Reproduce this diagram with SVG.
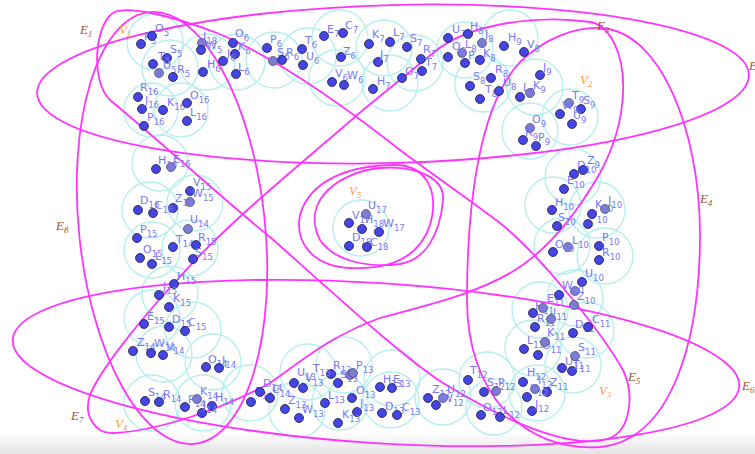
<svg xmlns="http://www.w3.org/2000/svg" width="755" height="454" viewBox="0 0 755 454">
<defs>
<linearGradient id="shade" x1="0" y1="0" x2="0" y2="1"><stop offset="0" stop-color="#ffffff"/><stop offset="1" stop-color="#e4e4e4"/></linearGradient>
</defs>
<style>
.c{fill:none;stroke:#b8eeee;stroke-width:1.4}
.d{fill:#4545e6;stroke:#1e1e3c;stroke-width:0.8}
.g{fill:#7c7cd6;stroke:#44446a;stroke-width:0.7}
.l{font-family:"DejaVu Sans","Liberation Sans",sans-serif;font-size:11px;fill:#7878f4}
.s{font-size:8.5px}
.e{fill:none;stroke:#ff33ff;stroke-width:1.8}
.el{font-family:"Liberation Serif",serif;font-style:italic;font-size:13px;fill:#a0522d}
.vl{font-family:"Liberation Serif",serif;font-style:italic;font-size:13px;fill:#ff9a2e}
</style>
<rect width="755" height="454" fill="#ffffff"/>
<rect x="0" y="432" width="755" height="22" fill="url(#shade)"/>
<g id="clusters">
<circle class="c" cx="155" cy="42" r="28"/><circle class="c" cx="170" cy="68" r="28"/><circle class="c" cx="207" cy="62" r="28"/><circle class="c" cx="237" cy="62" r="28"/><circle class="c" cx="274" cy="60" r="28"/><circle class="c" cx="308" cy="56" r="28"/><circle class="c" cx="340" cy="38" r="28"/><circle class="c" cx="337" cy="78" r="28"/><circle class="c" cx="384" cy="48" r="28"/><circle class="c" cx="415" cy="63" r="28"/><circle class="c" cx="390" cy="83" r="28"/><circle class="c" cx="465" cy="50" r="28"/><circle class="c" cx="483" cy="84" r="28"/><circle class="c" cx="510" cy="38" r="28"/><circle class="c" cx="535" cy="87" r="28"/><circle class="c" cx="570" cy="117" r="28"/><circle class="c" cx="530" cy="131" r="28"/>
<circle class="c" cx="573" cy="177" r="28"/><circle class="c" cx="553" cy="205" r="28"/><circle class="c" cx="597" cy="210" r="28"/><circle class="c" cx="562" cy="246" r="28"/><circle class="c" cx="605" cy="256" r="28"/><circle class="c" cx="575" cy="298" r="28"/><circle class="c" cx="540" cy="310" r="28"/><circle class="c" cx="586" cy="330" r="28"/><circle class="c" cx="533" cy="348" r="28"/><circle class="c" cx="573" cy="365" r="28"/><circle class="c" cx="487" cy="380" r="28"/><circle class="c" cx="537" cy="393" r="28"/><circle class="c" cx="494" cy="407" r="28"/>
<circle class="c" cx="443" cy="397" r="28"/><circle class="c" cx="392" cy="378" r="28"/><circle class="c" cx="391" cy="400" r="28"/><circle class="c" cx="344" cy="365" r="28"/><circle class="c" cx="340" cy="402" r="28"/><circle class="c" cx="308" cy="372" r="28"/><circle class="c" cx="297" cy="410" r="28"/><circle class="c" cx="250" cy="393" r="28"/><circle class="c" cx="213" cy="362" r="28"/><circle class="c" cx="203" cy="403" r="28"/><circle class="c" cx="152" cy="403" r="28"/><circle class="c" cx="164" cy="354" r="28"/><circle class="c" cx="193" cy="330" r="28"/><circle class="c" cx="152" cy="318" r="28"/><circle class="c" cx="170" cy="294" r="28"/>
<circle class="c" cx="190" cy="248" r="28"/><circle class="c" cx="152" cy="250" r="28"/><circle class="c" cx="150" cy="210" r="28"/><circle class="c" cx="195" cy="203" r="28"/><circle class="c" cx="160" cy="163" r="28"/><circle class="c" cx="151" cy="110" r="27"/><circle class="c" cx="181" cy="110" r="27"/><circle class="c" cx="361" cy="228" r="28"/>
</g>
<g id="connectors">
<ellipse id="E2" class="e" cx="393" cy="84" rx="356" ry="79" transform="rotate(-1.5 393 84)"/>
<ellipse id="E6" class="e" cx="376" cy="363" rx="364" ry="80" transform="rotate(3.7 376 363)"/>
<path id="E4" class="e" d="M600,28 C660,30 700,130 700,235 C700,340 672,440 600,447 C522,452 467,392 467,300 C467,200 480,105 520,62 C545,38 575,27 600,28 Z"/>
<ellipse id="E8" class="e" cx="172" cy="228" rx="93" ry="217" transform="rotate(-6 172 228)"/>
<path id="E3" class="e" d="M623,93 C625,55 610,25 590,22 C540,15 470,22 433,53 L363,110 C300,165 230,220 177,280 C140,320 100,370 90,395 C83,415 95,435 115,433 C160,430 220,410 270,383 C300,362 330,336 380,318 C430,304 470,296 512,272 C552,248 580,208 600,173 C615,145 622,120 623,93 Z"/>
<path id="E1" class="e" d="M113,13 C125,5 170,15 217,33 C270,55 330,95 400,150 C440,180 470,200 500,223 C540,255 600,330 623,370 C635,395 630,430 610,438 C580,450 520,430 443,383 C400,355 330,290 270,237 C230,205 170,150 110,100 C90,80 95,25 113,13 Z"/>
<path id="E5" class="e" d="M320,240 C300,200 340,172 380,168 C420,165 445,180 443,200 C440,235 425,260 400,264 C370,268 335,262 320,240 Z"/>
<path id="E7" class="e" d="M300,215 C310,180 350,165 395,165 C425,165 440,190 430,225 C420,255 395,270 350,268 C310,266 295,240 300,215 Z"/>
</g>
<g id="labels">
<text class="el" x="80" y="34">E<tspan class="s" dy="3">1</tspan></text>
<text class="el" x="749" y="70">E<tspan class="s" dy="3">2</tspan></text>
<text class="el" x="597" y="30">E<tspan class="s" dy="3">3</tspan></text>
<text class="el" x="700" y="203">E<tspan class="s" dy="3">4</tspan></text>
<text class="el" x="628" y="381">E<tspan class="s" dy="3">5</tspan></text>
<text class="el" x="742" y="390">E<tspan class="s" dy="3">6</tspan></text>
<text class="el" x="71" y="420">E<tspan class="s" dy="3">7</tspan></text>
<text class="el" x="56" y="230">E<tspan class="s" dy="3">8</tspan></text>
<text class="vl" x="119" y="34">V<tspan class="s" dy="3">1</tspan></text>
<text class="vl" x="580" y="84">V<tspan class="s" dy="3">2</tspan></text>
<text class="vl" x="599" y="395">V<tspan class="s" dy="3">3</tspan></text>
<text class="vl" x="115" y="428">V<tspan class="s" dy="3">4</tspan></text>
<text class="vl" x="349" y="195">V<tspan class="s" dy="3">5</tspan></text>
</g>
<g id="nodes">
<g id="P5"><circle class="d" cx="141" cy="44" r="4.5"/><text class="l" x="144" y="40">P<tspan class="s" dy="4">5</tspan></text></g>
<g id="O5"><circle class="d" cx="152" cy="36" r="4.5"/><text class="l" x="155" y="32">O<tspan class="s" dy="4">5</tspan></text></g>
<g id="S5"><circle class="d" cx="167" cy="58" r="4.5"/><text class="l" x="170" y="53">S<tspan class="s" dy="4">5</tspan></text></g>
<g id="T5"><circle class="d" cx="153" cy="64" r="4.5"/><text class="l" x="158" y="60">T<tspan class="s" dy="4">5</tspan></text></g>
<g id="U5"><circle class="g" cx="159" cy="73" r="4.5"/><text class="l" x="163" y="69">U<tspan class="s" dy="4">5</tspan></text></g>
<g id="R5"><circle class="d" cx="173" cy="77" r="4.5"/><text class="l" x="177" y="73">R<tspan class="s" dy="4">5</tspan></text></g>
<g id="J18"><circle class="g" cx="202" cy="43" r="4.5"/><text class="l" x="203" y="40">J<tspan class="s" dy="4">18</tspan></text></g>
<g id="W5"><circle class="d" cx="201" cy="50" r="4.5"/><text class="l" x="206" y="49">W<tspan class="s" dy="4">5</tspan></text></g>
<g id="H6"><circle class="d" cx="203" cy="72" r="4.5"/><text class="l" x="207" y="68">H<tspan class="s" dy="4">6</tspan></text></g>
<g id="O6"><circle class="d" cx="233" cy="43" r="4.5"/><text class="l" x="235" y="37">O<tspan class="s" dy="4">6</tspan></text></g>
<g id="K6"><circle class="d" cx="235" cy="54" r="4.5"/><text class="l" x="238" y="50">K<tspan class="s" dy="4">6</tspan></text></g>
<g id="J6"><circle class="d" cx="223" cy="61" r="4.5"/><text class="l" x="227" y="57">J<tspan class="s" dy="4">6</tspan></text></g>
<g id="L6"><circle class="d" cx="236" cy="74" r="4.5"/><text class="l" x="238" y="71">L<tspan class="s" dy="4">6</tspan></text></g>
<g id="P6"><circle class="d" cx="267" cy="48" r="4.5"/><text class="l" x="270" y="43">P<tspan class="s" dy="4">6</tspan></text></g>
<g id="S6"><circle class="g" cx="273" cy="61" r="4.5"/><text class="l" x="277" y="56">S<tspan class="s" dy="4">6</tspan></text></g>
<g id="R6"><circle class="d" cx="282" cy="60" r="4.5"/><text class="l" x="286" y="56">R<tspan class="s" dy="4">6</tspan></text></g>
<g id="T6"><circle class="d" cx="302" cy="49" r="4.5"/><text class="l" x="305" y="44">T<tspan class="s" dy="4">6</tspan></text></g>
<g id="U6"><circle class="d" cx="303" cy="65" r="4.5"/><text class="l" x="306" y="60">U<tspan class="s" dy="4">6</tspan></text></g>
<g id="E7n"><circle class="d" cx="324" cy="36" r="4.5"/><text class="l" x="327" y="33">E<tspan class="s" dy="4">7</tspan></text></g>
<g id="C7"><circle class="d" cx="343" cy="33" r="4.5"/><text class="l" x="345" y="29">C<tspan class="s" dy="4">7</tspan></text></g>
<g id="Z6"><circle class="d" cx="341" cy="57" r="4.5"/><text class="l" x="343" y="55">Z<tspan class="s" dy="4">6</tspan></text></g>
<g id="V6"><circle class="d" cx="332" cy="82" r="4.5"/><text class="l" x="335" y="77">V<tspan class="s" dy="4">6</tspan></text></g>
<g id="W6"><circle class="d" cx="344" cy="85" r="4.5"/><text class="l" x="347" y="79">W<tspan class="s" dy="4">6</tspan></text></g>
<g id="K7"><circle class="d" cx="369" cy="44" r="4.5"/><text class="l" x="372" y="38">K<tspan class="s" dy="4">7</tspan></text></g>
<g id="L7"><circle class="d" cx="390" cy="42" r="4.5"/><text class="l" x="393" y="36">L<tspan class="s" dy="4">7</tspan></text></g>
<g id="S7"><circle class="d" cx="407" cy="47" r="4.5"/><text class="l" x="410" y="42">S<tspan class="s" dy="4">7</tspan></text></g>
<g id="J7"><circle class="d" cx="378" cy="62" r="4.5"/><text class="l" x="380" y="58">J<tspan class="s" dy="4">7</tspan></text></g>
<g id="R7"><circle class="d" cx="421" cy="59" r="4.5"/><text class="l" x="423" y="53">R<tspan class="s" dy="4">7</tspan></text></g>
<g id="T7"><circle class="d" cx="422" cy="71" r="4.5"/><text class="l" x="425" y="66">T<tspan class="s" dy="4">7</tspan></text></g>
<g id="O7"><circle class="d" cx="402" cy="78" r="4.5"/><text class="l" x="405" y="75">O<tspan class="s" dy="4">7</tspan></text></g>
<g id="H7"><circle class="d" cx="373" cy="89" r="4.5"/><text class="l" x="377" y="85">H<tspan class="s" dy="4">7</tspan></text></g>
<g id="U7"><circle class="d" cx="448" cy="38" r="4.5"/><text class="l" x="452" y="33">U<tspan class="s" dy="4">7</tspan></text></g>
<g id="H8"><circle class="d" cx="468" cy="34" r="4.5"/><text class="l" x="470" y="30">H<tspan class="s" dy="4">8</tspan></text></g>
<g id="L8"><circle class="g" cx="462" cy="53" r="4.5"/><text class="l" x="465" y="48">L<tspan class="s" dy="4">8</tspan></text></g>
<g id="O8"><circle class="d" cx="448" cy="57" r="4.5"/><text class="l" x="452" y="50">O<tspan class="s" dy="4">8</tspan></text></g>
<g id="P8"><circle class="d" cx="465" cy="63" r="4.5"/><text class="l" x="468" y="59">P<tspan class="s" dy="4">8</tspan></text></g>
<g id="J8"><circle class="g" cx="482" cy="43" r="4.5"/><text class="l" x="485" y="38">J<tspan class="s" dy="4">8</tspan></text></g>
<g id="K8"><circle class="d" cx="480" cy="60" r="4.5"/><text class="l" x="483" y="57">K<tspan class="s" dy="4">8</tspan></text></g>
<g id="S8"><circle class="d" cx="470" cy="86" r="4.5"/><text class="l" x="473" y="80">S<tspan class="s" dy="4">8</tspan></text></g>
<g id="T8"><circle class="d" cx="480" cy="99" r="4.5"/><text class="l" x="485" y="93">T<tspan class="s" dy="4">8</tspan></text></g>
<g id="H9"><circle class="d" cx="504" cy="46" r="4.5"/><text class="l" x="508" y="41">H<tspan class="s" dy="4">9</tspan></text></g>
<g id="V8"><circle class="d" cx="524" cy="52" r="4.5"/><text class="l" x="527" y="48">V<tspan class="s" dy="4">8</tspan></text></g>
<g id="R8"><circle class="d" cx="491" cy="78" r="4.5"/><text class="l" x="495" y="73">R<tspan class="s" dy="4">8</tspan></text></g>
<g id="U8"><circle class="d" cx="499" cy="91" r="4.5"/><text class="l" x="503" y="86">U<tspan class="s" dy="4">8</tspan></text></g>
<g id="J9"><circle class="d" cx="540" cy="75" r="4.5"/><text class="l" x="543" y="71">J<tspan class="s" dy="4">9</tspan></text></g>
<g id="L9"><circle class="d" cx="520" cy="97" r="4.5"/><text class="l" x="523" y="91">L<tspan class="s" dy="4">9</tspan></text></g>
<g id="K9"><circle class="g" cx="530" cy="93" r="4.5"/><text class="l" x="533" y="89">K<tspan class="s" dy="4">9</tspan></text></g>
<g id="T9"><circle class="g" cx="569" cy="103" r="4.5"/><text class="l" x="572" y="99">T<tspan class="s" dy="4">9</tspan></text></g>
<g id="S9"><circle class="d" cx="581" cy="109" r="4.5"/><text class="l" x="583" y="104">S<tspan class="s" dy="4">9</tspan></text></g>
<g id="W9"><circle class="d" cx="560" cy="114" r="4.5"/><text class="l" x="562" y="109">W<tspan class="s" dy="4">9</tspan></text></g>
<g id="U9"><circle class="d" cx="572" cy="124" r="4.5"/><text class="l" x="573" y="119">U<tspan class="s" dy="4">9</tspan></text></g>
<g id="O9"><circle class="g" cx="530" cy="128" r="4.5"/><text class="l" x="532" y="123">O<tspan class="s" dy="4">9</tspan></text></g>
<g id="R9"><circle class="d" cx="523" cy="140" r="4.5"/><text class="l" x="525" y="136">R<tspan class="s" dy="4">9</tspan></text></g>
<g id="P9"><circle class="d" cx="536" cy="146" r="4.5"/><text class="l" x="538" y="141">P<tspan class="s" dy="4">9</tspan></text></g>
<g id="R16"><circle class="d" cx="138" cy="97" r="4.5"/><text class="l" x="140" y="91">R<tspan class="s" dy="4">16</tspan></text></g>
<g id="J16"><circle class="d" cx="142" cy="109" r="4.5"/><text class="l" x="145" y="104">J<tspan class="s" dy="4">16</tspan></text></g>
<g id="K16"><circle class="d" cx="163" cy="110" r="4.5"/><text class="l" x="167" y="106">K<tspan class="s" dy="4">16</tspan></text></g>
<g id="O16"><circle class="d" cx="187" cy="103" r="4.5"/><text class="l" x="190" y="99">O<tspan class="s" dy="4">16</tspan></text></g>
<g id="L16"><circle class="d" cx="187" cy="121" r="4.5"/><text class="l" x="190" y="116">L<tspan class="s" dy="4">16</tspan></text></g>
<g id="P16"><circle class="d" cx="144" cy="126" r="4.5"/><text class="l" x="147" y="121">P<tspan class="s" dy="4">16</tspan></text></g>
<g id="H16"><circle class="d" cx="156" cy="169" r="4.5"/><text class="l" x="158" y="164">H<tspan class="s" dy="4">16</tspan></text></g>
<g id="E16"><circle class="g" cx="171" cy="167" r="4.5"/><text class="l" x="173" y="163">E<tspan class="s" dy="4">16</tspan></text></g>
<g id="V15"><circle class="d" cx="190" cy="191" r="4.5"/><text class="l" x="193" y="186">V<tspan class="s" dy="4">15</tspan></text></g>
<g id="W15"><circle class="g" cx="190" cy="202" r="4.5"/><text class="l" x="192" y="197">W<tspan class="s" dy="4">15</tspan></text></g>
<g id="Z15"><circle class="d" cx="173" cy="208" r="4.5"/><text class="l" x="175" y="202">Z<tspan class="s" dy="4">15</tspan></text></g>
<g id="D16"><circle class="d" cx="138" cy="210" r="4.5"/><text class="l" x="140" y="204">D<tspan class="s" dy="4">16</tspan></text></g>
<g id="C16"><circle class="d" cx="153" cy="213" r="4.5"/><text class="l" x="155" y="209">C<tspan class="s" dy="4">16</tspan></text></g>
<g id="U14"><circle class="g" cx="188" cy="229" r="4.5"/><text class="l" x="190" y="223">U<tspan class="s" dy="4">14</tspan></text></g>
<g id="P15"><circle class="d" cx="137" cy="238" r="4.5"/><text class="l" x="140" y="233">P<tspan class="s" dy="4">15</tspan></text></g>
<g id="T14"><circle class="d" cx="173" cy="247" r="4.5"/><text class="l" x="176" y="243">T<tspan class="s" dy="4">14</tspan></text></g>
<g id="R15"><circle class="d" cx="196" cy="245" r="4.5"/><text class="l" x="198" y="241">R<tspan class="s" dy="4">15</tspan></text></g>
<g id="S15"><circle class="d" cx="193" cy="259" r="4.5"/><text class="l" x="195" y="256">S<tspan class="s" dy="4">15</tspan></text></g>
<g id="O15"><circle class="d" cx="140" cy="258" r="4.5"/><text class="l" x="143" y="253">O<tspan class="s" dy="4">15</tspan></text></g>
<g id="L15"><circle class="d" cx="152" cy="264" r="4.5"/><text class="l" x="155" y="260">L<tspan class="s" dy="4">15</tspan></text></g>
<g id="H15"><circle class="d" cx="174" cy="284" r="4.5"/><text class="l" x="177" y="280">H<tspan class="s" dy="4">15</tspan></text></g>
<g id="J15"><circle class="d" cx="159" cy="295" r="4.5"/><text class="l" x="163" y="290">J<tspan class="s" dy="4">15</tspan></text></g>
<g id="K15"><circle class="d" cx="169" cy="307" r="4.5"/><text class="l" x="173" y="302">K<tspan class="s" dy="4">15</tspan></text></g>
<g id="E15"><circle class="d" cx="144" cy="324" r="4.5"/><text class="l" x="147" y="320">E<tspan class="s" dy="4">15</tspan></text></g>
<g id="D15"><circle class="d" cx="169" cy="327" r="4.5"/><text class="l" x="172" y="323">D<tspan class="s" dy="4">15</tspan></text></g>
<g id="C15"><circle class="d" cx="185" cy="331" r="4.5"/><text class="l" x="188" y="326">C<tspan class="s" dy="4">15</tspan></text></g>
<g id="Z14"><circle class="d" cx="133" cy="351" r="4.5"/><text class="l" x="137" y="346">Z<tspan class="s" dy="4">14</tspan></text></g>
<g id="W14"><circle class="d" cx="151" cy="353" r="4.5"/><text class="l" x="154" y="347">W<tspan class="s" dy="4">14</tspan></text></g>
<g id="V14"><circle class="d" cx="163" cy="355" r="4.5"/><text class="l" x="166" y="350">V<tspan class="s" dy="4">14</tspan></text></g>
<g id="O14"><circle class="d" cx="206" cy="367" r="4.5"/><text class="l" x="208" y="363">O<tspan class="s" dy="4">14</tspan></text></g>
<g id="I14"><circle class="d" cx="219" cy="368" r="4.5"/><text class="l" x="222" y="364">I<tspan class="s" dy="4">14</tspan></text></g>
<g id="S14"><circle class="d" cx="145" cy="401" r="4.5"/><text class="l" x="148" y="396">S<tspan class="s" dy="4">14</tspan></text></g>
<g id="R14"><circle class="d" cx="159" cy="402" r="4.5"/><text class="l" x="163" y="398">R<tspan class="s" dy="4">14</tspan></text></g>
<g id="K14"><circle class="g" cx="197" cy="399" r="4.5"/><text class="l" x="200" y="395">K<tspan class="s" dy="4">14</tspan></text></g>
<g id="H14"><circle class="d" cx="212" cy="406" r="4.5"/><text class="l" x="215" y="401">H<tspan class="s" dy="4">14</tspan></text></g>
<g id="P14"><circle class="d" cx="185" cy="407" r="4.5"/><text class="l" x="188" y="403">P<tspan class="s" dy="4">14</tspan></text></g>
<g id="J14"><circle class="d" cx="202" cy="413" r="4.5"/><text class="l" x="203" y="409">J<tspan class="s" dy="4">14</tspan></text></g>
<g id="E14"><circle class="d" cx="251" cy="402" r="4.5"/><text class="l" x="255" y="395">E<tspan class="s" dy="4">14</tspan></text></g>
<g id="D14"><circle class="d" cx="260" cy="392" r="4.5"/><text class="l" x="263" y="387">D<tspan class="s" dy="4">14</tspan></text></g>
<g id="C14"><circle class="d" cx="270" cy="398" r="4.5"/><text class="l" x="272" y="393">C<tspan class="s" dy="4">14</tspan></text></g>
<g id="Z13"><circle class="d" cx="285" cy="409" r="4.5"/><text class="l" x="288" y="404">Z<tspan class="s" dy="4">13</tspan></text></g>
<g id="W13"><circle class="d" cx="299" cy="418" r="4.5"/><text class="l" x="302" y="413">W<tspan class="s" dy="4">13</tspan></text></g>
<g id="U13"><circle class="d" cx="294" cy="383" r="4.5"/><text class="l" x="297" y="376">U<tspan class="s" dy="4">13</tspan></text></g>
<g id="V13"><circle class="d" cx="303" cy="388" r="4.5"/><text class="l" x="305" y="382">V<tspan class="s" dy="4">13</tspan></text></g>
<g id="T13"><circle class="d" cx="331" cy="374" r="4.5"/><text class="l" x="313" y="372">T<tspan class="s" dy="4">13</tspan></text></g>
<g id="R13"><circle class="g" cx="350" cy="375" r="4.5"/><text class="l" x="333" y="369">R<tspan class="s" dy="4">13</tspan></text></g>
<g id="S13"><circle class="d" cx="338" cy="383" r="4.5"/><text class="l" x="340" y="378">S<tspan class="s" dy="4">13</tspan></text></g>
<g id="P13"><circle class="g" cx="353" cy="373" r="4.5"/><text class="l" x="356" y="369">P<tspan class="s" dy="4">13</tspan></text></g>
<g id="L13"><circle class="d" cx="325" cy="403" r="4.5"/><text class="l" x="328" y="399">L<tspan class="s" dy="4">13</tspan></text></g>
<g id="O13"><circle class="d" cx="352" cy="398" r="4.5"/><text class="l" x="356" y="394">O<tspan class="s" dy="4">13</tspan></text></g>
<g id="J13"><circle class="d" cx="357" cy="412" r="4.5"/><text class="l" x="360" y="407">J<tspan class="s" dy="4">13</tspan></text></g>
<g id="K13"><circle class="d" cx="338" cy="423" r="4.5"/><text class="l" x="342" y="418">K<tspan class="s" dy="4">13</tspan></text></g>
<g id="H13"><circle class="d" cx="380" cy="387" r="4.5"/><text class="l" x="383" y="383">H<tspan class="s" dy="4">13</tspan></text></g>
<g id="E13"><circle class="d" cx="392" cy="388" r="4.5"/><text class="l" x="393" y="383">E<tspan class="s" dy="4">13</tspan></text></g>
<g id="D13"><circle class="d" cx="382" cy="413" r="4.5"/><text class="l" x="385" y="410">D<tspan class="s" dy="4">13</tspan></text></g>
<g id="C13"><circle class="d" cx="397" cy="415" r="4.5"/><text class="l" x="402" y="411">C<tspan class="s" dy="4">13</tspan></text></g>
<g id="Z12"><circle class="d" cx="428" cy="398" r="4.5"/><text class="l" x="432" y="393">Z<tspan class="s" dy="4">12</tspan></text></g>
<g id="U12"><circle class="g" cx="443" cy="398" r="4.5"/><text class="l" x="447" y="393">U<tspan class="s" dy="4">12</tspan></text></g>
<g id="W12"><circle class="d" cx="436" cy="405" r="4.5"/><text class="l" x="442" y="402">W<tspan class="s" dy="4">12</tspan></text></g>
<g id="T12"><circle class="d" cx="468" cy="380" r="4.5"/><text class="l" x="470" y="374">T<tspan class="s" dy="4">12</tspan></text></g>
<g id="S12"><circle class="d" cx="484" cy="392" r="4.5"/><text class="l" x="487" y="386">S<tspan class="s" dy="4">12</tspan></text></g>
<g id="P12"><circle class="g" cx="496" cy="391" r="4.5"/><text class="l" x="498" y="386">P<tspan class="s" dy="4">12</tspan></text></g>
<g id="H12"><circle class="d" cx="523" cy="382" r="4.5"/><text class="l" x="527" y="376">H<tspan class="s" dy="4">12</tspan></text></g>
<g id="I12"><circle class="g" cx="535" cy="389" r="4.5"/><text class="l" x="538" y="384">I<tspan class="s" dy="4">12</tspan></text></g>
<g id="Z11"><circle class="d" cx="547" cy="392" r="4.5"/><text class="l" x="550" y="386">Z<tspan class="s" dy="4">11</tspan></text></g>
<g id="K12"><circle class="d" cx="527" cy="397" r="4.5"/><text class="l" x="530" y="392">K<tspan class="s" dy="4">12</tspan></text></g>
<g id="J12"><circle class="d" cx="532" cy="411" r="4.5"/><text class="l" x="535" y="408">J<tspan class="s" dy="4">12</tspan></text></g>
<g id="O12"><circle class="d" cx="481" cy="415" r="4.5"/><text class="l" x="483" y="411">O<tspan class="s" dy="4">12</tspan></text></g>
<g id="L12"><circle class="d" cx="500" cy="417" r="4.5"/><text class="l" x="503" y="414">L<tspan class="s" dy="4">12</tspan></text></g>
<g id="T11"><circle class="d" cx="572" cy="371" r="4.5"/><text class="l" x="573" y="368">T<tspan class="s" dy="4">11</tspan></text></g>
<g id="U11"><circle class="d" cx="562" cy="368" r="4.5"/><text class="l" x="565" y="365">U<tspan class="s" dy="4">11</tspan></text></g>
<g id="S11"><circle class="g" cx="575" cy="356" r="4.5"/><text class="l" x="578" y="351">S<tspan class="s" dy="4">11</tspan></text></g>
<g id="L11"><circle class="d" cx="524" cy="349" r="4.5"/><text class="l" x="527" y="344">L<tspan class="s" dy="4">11</tspan></text></g>
<g id="O11"><circle class="d" cx="538" cy="355" r="4.5"/><text class="l" x="542" y="349">O<tspan class="s" dy="4">11</tspan></text></g>
<g id="K11"><circle class="g" cx="545" cy="342" r="4.5"/><text class="l" x="547" y="336">K<tspan class="s" dy="4">11</tspan></text></g>
<g id="R11"><circle class="d" cx="535" cy="327" r="4.5"/><text class="l" x="537" y="322">R<tspan class="s" dy="4">11</tspan></text></g>
<g id="J11"><circle class="g" cx="551" cy="319" r="4.5"/><text class="l" x="553" y="316">J<tspan class="s" dy="4">11</tspan></text></g>
<g id="H11"><circle class="d" cx="533" cy="313" r="4.5"/><text class="l" x="535" y="310">H<tspan class="s" dy="4">11</tspan></text></g>
<g id="I11"><circle class="g" cx="543" cy="308" r="4.5"/></g>
<g id="E11"><circle class="d" cx="559" cy="295" r="4.5"/><text class="l" x="547" y="302">E<tspan class="s" dy="4">11</tspan></text></g>
<g id="D11"><circle class="d" cx="573" cy="333" r="4.5"/><text class="l" x="575" y="328">D<tspan class="s" dy="4">11</tspan></text></g>
<g id="C11"><circle class="d" cx="588" cy="327" r="4.5"/><text class="l" x="592" y="323">C<tspan class="s" dy="4">11</tspan></text></g>
<g id="U10"><circle class="d" cx="582" cy="282" r="4.5"/><text class="l" x="585" y="277">U<tspan class="s" dy="4">10</tspan></text></g>
<g id="W10"><circle class="g" cx="575" cy="291" r="4.5"/><text class="l" x="562" y="289">W<tspan class="s" dy="4">10</tspan></text></g>
<g id="Z10"><circle class="g" cx="574" cy="305" r="4.5"/><text class="l" x="577" y="300">Z<tspan class="s" dy="4">10</tspan></text></g>
<g id="P10"><circle class="d" cx="599" cy="246" r="4.5"/><text class="l" x="602" y="241">P<tspan class="s" dy="4">10</tspan></text></g>
<g id="R10"><circle class="d" cx="599" cy="260" r="4.5"/><text class="l" x="602" y="256">R<tspan class="s" dy="4">10</tspan></text></g>
<g id="L10"><circle class="g" cx="568" cy="247" r="4.5"/><text class="l" x="572" y="244">L<tspan class="s" dy="4">10</tspan></text></g>
<g id="O10"><circle class="d" cx="553" cy="252" r="4.5"/><text class="l" x="555" y="248">O<tspan class="s" dy="4">10</tspan></text></g>
<g id="S10"><circle class="d" cx="557" cy="226" r="4.5"/><text class="l" x="558" y="221">S<tspan class="s" dy="4">10</tspan></text></g>
<g id="T10"><circle class="d" cx="588" cy="224" r="4.5"/><text class="l" x="590" y="219">T<tspan class="s" dy="4">10</tspan></text></g>
<g id="K10"><circle class="d" cx="592" cy="214" r="4.5"/><text class="l" x="595" y="208">K<tspan class="s" dy="4">10</tspan></text></g>
<g id="J10"><circle class="g" cx="605" cy="209" r="4.5"/><text class="l" x="608" y="204">J<tspan class="s" dy="4">10</tspan></text></g>
<g id="H10"><circle class="d" cx="552" cy="210" r="4.5"/><text class="l" x="555" y="206">H<tspan class="s" dy="4">10</tspan></text></g>
<g id="E10"><circle class="d" cx="564" cy="189" r="4.5"/><text class="l" x="567" y="184">E<tspan class="s" dy="4">10</tspan></text></g>
<g id="D10"><circle class="d" cx="574" cy="174" r="4.5"/><text class="l" x="577" y="169">D<tspan class="s" dy="4">10</tspan></text></g>
<g id="Z9"><circle class="d" cx="583" cy="170" r="4.5"/><text class="l" x="587" y="164">Z<tspan class="s" dy="4">9</tspan></text></g>
<g id="V17"><circle class="d" cx="349" cy="223" r="4.5"/><text class="l" x="352" y="219">V<tspan class="s" dy="4">17</tspan></text></g>
<g id="U17"><circle class="g" cx="366" cy="214" r="4.5"/><text class="l" x="368" y="209">U<tspan class="s" dy="4">17</tspan></text></g>
<g id="H18"><circle class="d" cx="362" cy="229" r="4.5"/><text class="l" x="365" y="223">H<tspan class="s" dy="4">18</tspan></text></g>
<g id="W17"><circle class="d" cx="379" cy="232" r="4.5"/><text class="l" x="383" y="227">W<tspan class="s" dy="4">17</tspan></text></g>
<g id="D18"><circle class="d" cx="349" cy="246" r="4.5"/><text class="l" x="352" y="241">D<tspan class="s" dy="4">18</tspan></text></g>
<g id="C18"><circle class="d" cx="367" cy="247" r="4.5"/><text class="l" x="370" y="246">C<tspan class="s" dy="4">18</tspan></text></g>
</g>
</svg>
